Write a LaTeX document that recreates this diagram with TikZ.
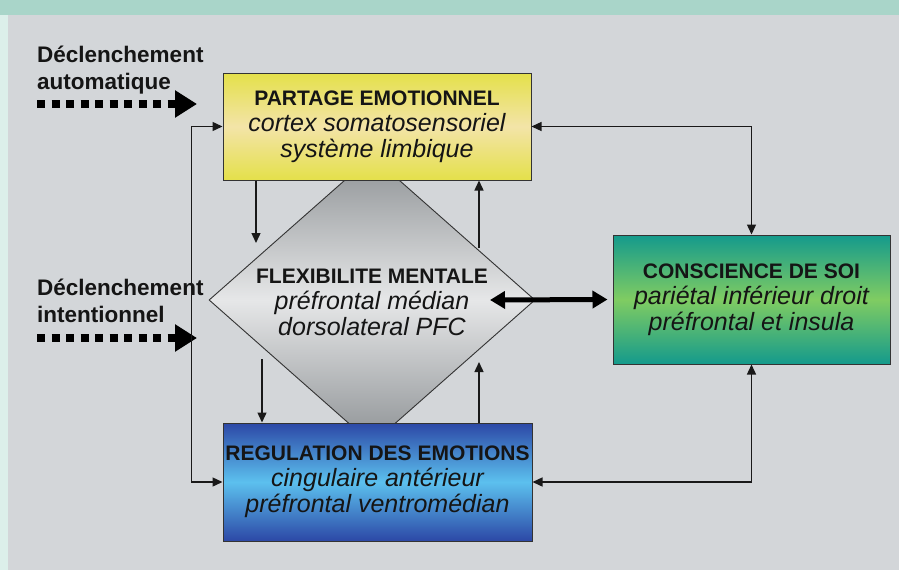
\documentclass[tikz,border=0pt]{standalone}
\usepackage{fontspec}
\setmainfont{Liberation Sans}
\usetikzlibrary{arrows.meta,shapes.geometric}
\definecolor{bg}{HTML}{D3D6D9}
\definecolor{band}{HTML}{A9D5C9}
\definecolor{strip}{HTML}{DCEFEA}
\definecolor{yel}{HTML}{E4E04A}
\definecolor{yelm}{HTML}{F3E4A8}
\definecolor{dgray}{HTML}{8E9295}
\definecolor{lgray}{HTML}{E6E7E8}
\definecolor{bdark}{HTML}{2C48A6}
\definecolor{blight}{HTML}{5CC0EE}
\definecolor{tdark}{HTML}{149A8C}
\definecolor{tlight}{HTML}{80CC62}
\definecolor{ink}{HTML}{151515}
\newcommand\ttl{\bfseries\fontsize{21}{26}\selectfont}
\newcommand\itl{\itshape\fontsize{25}{26}\selectfont}
\begin{document}
\begin{tikzpicture}[x=1pt,y=-1pt,
  box/.style={draw=black!80, line width=1pt, inner sep=0pt, align=center, text=ink, font=\fontsize{21}{26}\selectfont},
  thinline/.style={line width=1.4pt, draw=black!90},
  arr/.style={thinline, -{Triangle[length=10pt,width=9pt]}},
  biarr/.style={thinline, {Triangle[length=10pt,width=9pt]}-{Triangle[length=10pt,width=9pt]}},
  bigarr/.style={line width=5pt, draw=black, {Triangle[length=15pt,width=17pt]}-{Triangle[length=15pt,width=17pt]}},
  dotarr/.style={line width=8pt, draw=black, dash pattern=on 8pt off 6.5pt, -{Triangle[length=22pt,width=26pt]}},
  lbl/.style={font=\bfseries\fontsize{22.5}{27}\selectfont, align=left, inner sep=0pt, text=ink}
]
\useasboundingbox (0,0) rectangle (899,570);
\fill[bg] (0,0) rectangle (899,570);
\fill[band] (0,0) rectangle (899,15);
\fill[strip] (0,15) rectangle (8,570);

% diamond
\node[diamond, draw=black!80, line width=0.9pt, aspect=1.132, minimum width=326pt, minimum height=288pt, inner sep=0pt,
      top color=dgray, bottom color=dgray, middle color=lgray] (f) at (372,300) {};
\node[align=center, inner sep=0pt, text=ink, font=\fontsize{21}{26}\selectfont] (ft) at (372,302)
  {{\ttl FLEXIBILITE MENTALE}\\{\itl préfrontal médian}\\{\itl dorsolateral PFC}};

% boxes
\node[box, minimum width=308pt, minimum height=107pt, top color=yel, bottom color=yel, middle color=yelm] (p) at (377,126.5)
  {{\ttl PARTAGE EMOTIONNEL}\\{\itl cortex somatosensoriel}\\{\itl système limbique}};
\node[box, minimum width=309pt, minimum height=118pt, top color=bdark, bottom color=bdark, middle color=blight] (r) at (377.5,482)
  {{\ttl REGULATION DES EMOTIONS}\\{\itl cingulaire antérieur}\\{\itl préfrontal ventromédian}};
\node[box, minimum width=277pt, minimum height=129pt, top color=tdark, bottom color=tdark, middle color=tlight] (c) at (751.5,299.5)
  {{\ttl CONSCIENCE DE SOI}\\{\itl pariétal inférieur droit}\\{\itl préfrontal et insula}};

% labels
\node[lbl, anchor=north west] (la) at (37,45.5) {Déclenchement\\automatique};
\node[lbl, anchor=north west] (li) at (37,278.5) {Déclenchement\\intentionnel};

% dotted arrows
\coordinate (a1s) at (37,104);
\coordinate (a1e) at (197,104);
\coordinate (a2s) at (37,338);
\coordinate (a2e) at (197,338);
\draw[dotarr] (a1s) -- (a1e);
\draw[dotarr] (a2s) -- (a2e);

% connectors
\draw[biarr] (p.east) -| (c.north);
\draw[biarr] (r.east) -| (c.south);
\draw[biarr] (p.west) -- ++(-31,0) |- (r.west);

\coordinate (d1) at (256,243);
\draw[arr] (d1 |- p.south) -- (d1);
\coordinate (u1) at (479,248);
\draw[arr] (u1) -- (u1 |- p.south);
\coordinate (d2) at (262,359);
\draw[arr] (d2) -- (d2 |- r.north);
\coordinate (u2) at (479,362);
\draw[arr] (u2 |- r.north) -- (u2);

\coordinate (t1) at (490,300);
\draw[bigarr] (t1) -- ([xshift=-5pt]c.west);
\end{tikzpicture}
\end{document}
